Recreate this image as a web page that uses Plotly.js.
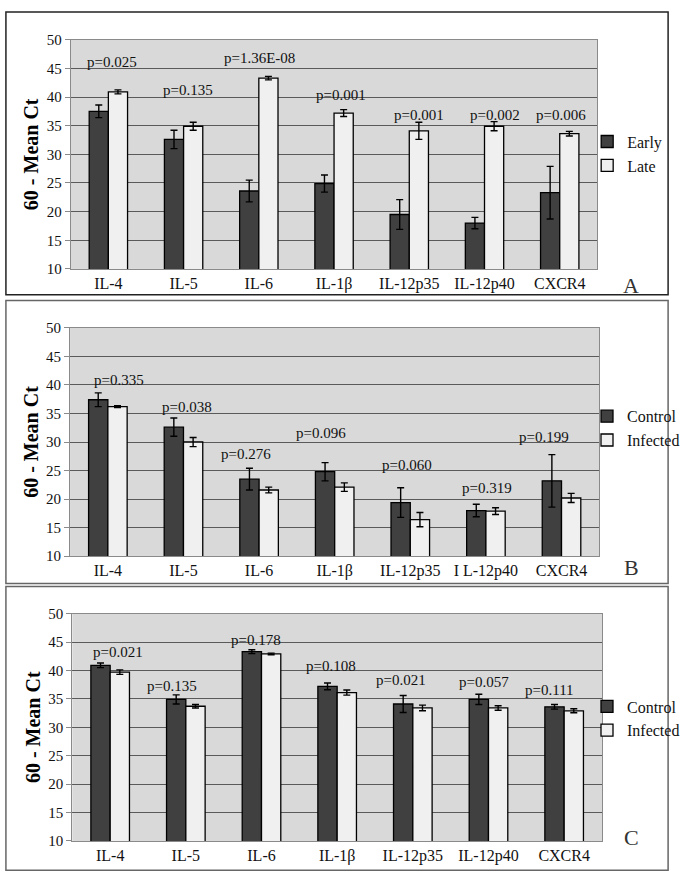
<!DOCTYPE html>
<html>
<head>
<meta charset="utf-8">
<script src="https://cdn.plot.ly/plotly-3.0.1.min.js"></script>
<style>html,body{margin:0;padding:0;background:#fff;}#chart{width:685px;height:887px;}</style>
</head>
<body>
<div id="chart"></div>
<script>
// ---------- data ----------
const categoriesA = ['IL-4','IL-5','IL-6','IL-1β','IL-12p35','IL-12p40','CXCR4'];
const categoriesB = ['IL-4','IL-5','IL-6','IL-1β','IL-12p35','I L-12p40','CXCR4'];
const categoriesC = ['IL-4','IL-5','IL-6','IL-1β','IL-12p35','IL-12p40','CXCR4'];

const earlyA    = [37.5, 32.6, 23.6, 24.9, 19.5, 18.0, 23.3];
const earlyErrA = [1.1, 1.6, 1.9, 1.5, 2.6, 1.0, 4.6];
const lateA     = [40.9, 34.9, 43.3, 37.2, 34.1, 34.9, 33.6];
const lateErrA  = [0.35, 0.7, 0.3, 0.6, 1.5, 0.8, 0.4];
const pValuesA  = ['p=0.025','p=0.135','p=1.36E-08','p=0.001','p=0.001','p=0.002','p=0.006'];
const pLabelYA  = [46.1, 41.3, 46.8, 40.3, 36.8, 36.8, 36.8];

const controlB     = [37.4, 32.6, 23.5, 24.8, 19.4, 18.0, 23.2];
const controlErrB  = [1.2, 1.6, 1.9, 1.6, 2.6, 1.1, 4.6];
const infectedB    = [36.2, 30.0, 21.6, 22.1, 16.4, 17.9, 20.2];
const infectedErrB = [0.15, 0.8, 0.5, 0.75, 1.25, 0.6, 0.8];
const pValuesB     = ['p=0.335','p=0.038','p=0.276','p=0.096','p=0.060','p=0.319','p=0.199'];
const pLabelYB     = [40.8, 36.2, 27.9, 31.5, 26.0, 22.0, 30.8];

const controlC     = [40.9, 34.9, 43.3, 37.2, 34.1, 34.9, 33.6];
const controlErrC  = [0.4, 0.8, 0.35, 0.6, 1.5, 0.9, 0.4];
const infectedC    = [39.7, 33.7, 42.9, 36.1, 33.4, 33.4, 32.9];
const infectedErrC = [0.4, 0.3, 0.15, 0.45, 0.5, 0.4, 0.35];
const pValuesC     = ['p=0.021','p=0.135','p=0.178','p=0.108','p=0.021','p=0.057','p=0.111'];
const pLabelYC     = [43.2, 37.3, 45.4, 40.8, 38.4, 38.0, 36.5];

// ---------- styling / layout helpers ----------
const W = 685, H = 887;
const px = x => x / W;
const py = y => 1 - y / H;
const FONT = '"Liberation Serif", "Times New Roman", serif';
const DARK = '#404040', LIGHT = '#f0f0f0';
const pShiftA = [4, 4, 1, 7, 10, 10, 1];
const pShiftB = [11, 4, -13, -14, -3, 1, -18];
const pShiftC = [8, -14, -5, -6, -12, -4, -15];

function barTrace(name, cats, vals, errs, color, xa, ya, legend) {
  return {
    type: 'bar', name: name, x: cats, y: vals,
    xaxis: xa, yaxis: ya, legend: legend, showlegend: true,
    marker: {color: color, line: {color: '#000', width: 1.3}},
    error_y: {type: 'data', array: errs, visible: true, color: '#000', thickness: 1.4, width: 3.5},
    hoverinfo: 'x+y+name'
  };
}

const data = [
  barTrace('Early', categoriesA, earlyA, earlyErrA, DARK, 'x', 'y', 'legend'),
  barTrace('Late', categoriesA, lateA, lateErrA, LIGHT, 'x', 'y', 'legend'),
  barTrace('Control', categoriesB, controlB, controlErrB, DARK, 'x2', 'y2', 'legend2'),
  barTrace('Infected', categoriesB, infectedB, infectedErrB, LIGHT, 'x2', 'y2', 'legend2'),
  barTrace('Control', categoriesC, controlC, controlErrC, DARK, 'x3', 'y3', 'legend3'),
  barTrace('Infected', categoriesC, infectedC, infectedErrC, LIGHT, 'x3', 'y3', 'legend3')
];

function xAxis(l, r, anchor) {
  return {
    domain: [px(l), px(r)], anchor: anchor, type: 'category',
    showline: true, linecolor: '#8a8a8a', linewidth: 1, mirror: true,
    ticks: '', tickfont: {family: FONT, size: 16, color: '#111'},
    showgrid: false, fixedrange: true
  };
}
function yAxis(top, bottom, anchor) {
  return {
    domain: [py(bottom), py(top)], anchor: anchor,
    range: [10, 50], dtick: 5, tick0: 10,
    showline: true, linecolor: '#8a8a8a', linewidth: 1, mirror: true,
    ticks: 'outside', ticklen: 5, tickcolor: '#8a8a8a',
    tickfont: {family: FONT, size: 15, color: '#111'},
    showgrid: true, gridcolor: '#5a5a5a', gridwidth: 1,
    zeroline: false, automargin: true, fixedrange: true,
    title: {text: '<b>60 - Mean Ct</b>', font: {family: FONT, size: 20, color: '#000'}, standoff: 2}
  };
}

function pAnnotations(cats, labels, ys, shifts, xa, ya) {
  return cats.map((c, i) => ({
    x: c, y: ys[i], xref: xa, yref: ya, text: labels[i], showarrow: false,
    xshift: shifts[i], font: {family: FONT, size: 15, color: '#111'}
  }));
}

const panelFrames = [
  {top: 4, bottom: 292, color: '#222'},
  {top: 298, bottom: 586, color: '#666'},
  {top: 589, bottom: 878, color: '#666'}
].map(f => ({
  type: 'rect', xref: 'paper', yref: 'paper',
  x0: px(6), x1: px(677), y0: py(f.bottom), y1: py(f.top),
  line: {color: f.color, width: 1.5}, fillcolor: 'rgba(0,0,0,0)', layer: 'below'
}));

const panelLetters = [
  {t: 'A', y: 268}, {t: 'B', y: 570}, {t: 'C', y: 859}
].map(p => ({
  xref: 'paper', yref: 'paper', x: px(650), y: py(p.y), text: p.t, showarrow: false,
  font: {family: FONT, size: 22, color: '#333'}
}));

function legendAt(yMid) {
  return {
    x: px(595), y: py(yMid), xanchor: 'left', yanchor: 'middle',
    bgcolor: 'rgba(0,0,0,0)', borderwidth: 0,
    font: {family: FONT, size: 16, color: '#111'},
    itemwidth: 30, tracegroupgap: 0
  };
}

const layout = {
  width: W, height: H,
  margin: {l: 0, r: 0, t: 0, b: 0},
  paper_bgcolor: '#ffffff', plot_bgcolor: '#d9d9d9',
  barmode: 'group', bargap: 0.49, bargroupgap: 0,
  xaxis: xAxis(71.7, 605.3, 'y'),
  yaxis: yAxis(32.3, 265.7, 'x'),
  xaxis2: xAxis(71, 607.3, 'y2'),
  yaxis2: yAxis(325.7, 558.3, 'x2'),
  xaxis3: xAxis(73.3, 610, 'y3'),
  yaxis3: yAxis(616.7, 848.3, 'x3'),
  legend: legendAt(148.3),
  legend2: legendAt(428),
  legend3: legendAt(723.5),
  shapes: panelFrames,
  annotations: [].concat(
    pAnnotations(categoriesA, pValuesA, pLabelYA, pShiftA, 'x', 'y'),
    pAnnotations(categoriesB, pValuesB, pLabelYB, pShiftB, 'x2', 'y2'),
    pAnnotations(categoriesC, pValuesC, pLabelYC, pShiftC, 'x3', 'y3'),
    panelLetters
  )
};

Plotly.newPlot('chart', data, layout, {displayModeBar: false, staticPlot: true});
</script>
</body>
</html>
